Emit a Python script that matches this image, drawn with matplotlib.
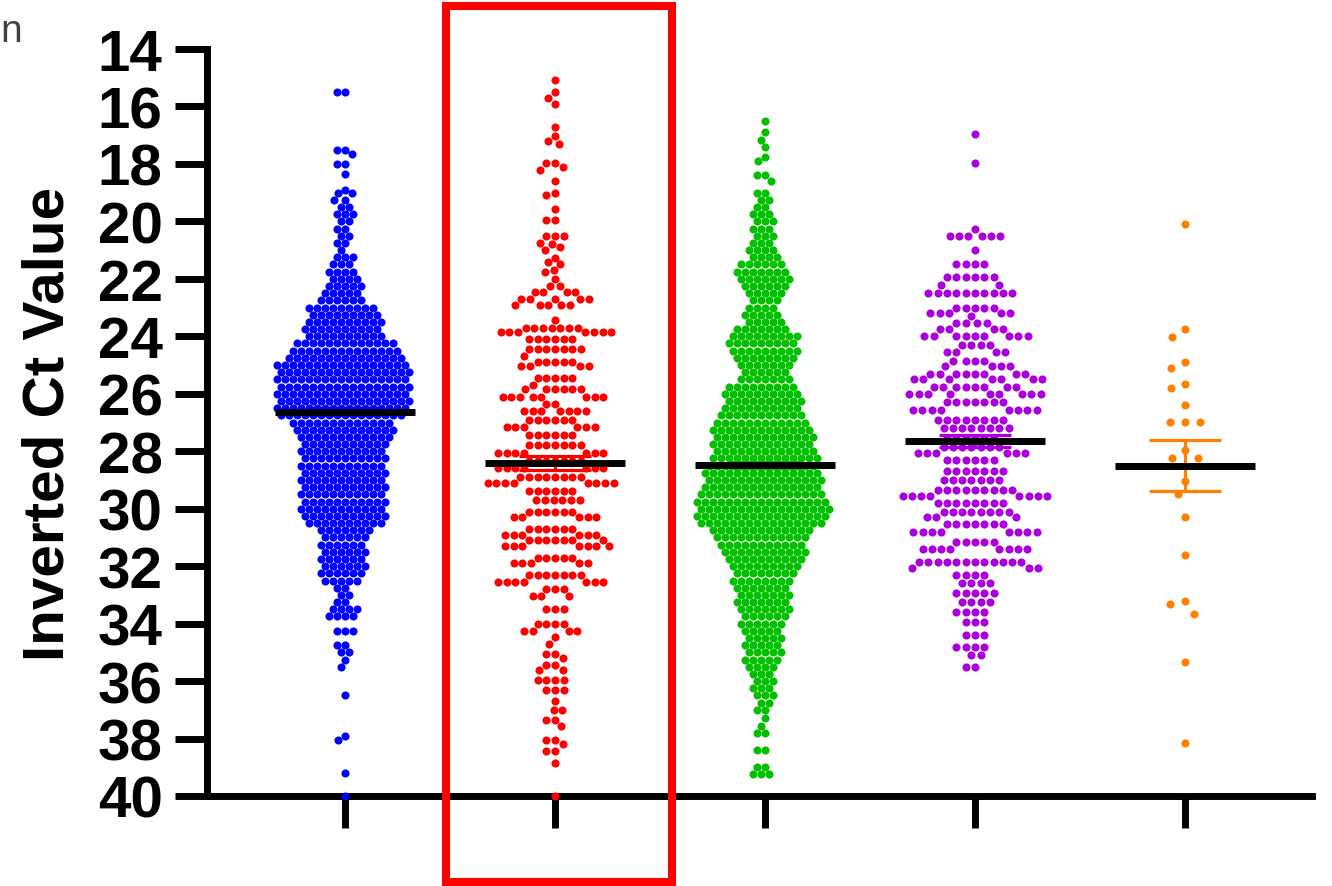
import numpy as np
import matplotlib
matplotlib.use('Agg')
import matplotlib.pyplot as plt
import matplotlib.transforms as mtransforms
from matplotlib.patches import Rectangle

plt.rcParams['font.family'] = ['Liberation Sans', 'DejaVu Sans']

blue_ct = [15.5, 17.5, 17.65, 18.0, 18.35, 18.9,
           19.0, 19.25, 19.5, 19.75, 20.0, 20.25, 20.5, 20.75, 21.0, 21.25,
           21.5, 21.75, 22.0, 22.25, 22.5, 22.75, 23.0, 23.25, 23.5, 23.75,
           24.0, 24.25, 24.5, 24.75, 25.0, 25.25, 25.5, 25.75, 26.0, 26.25,
           26.5, 26.75, 27.0, 27.25, 27.5, 27.75, 28.0, 28.25, 28.5, 28.75,
           29.0, 29.25, 29.5, 29.75, 30.0, 30.25, 30.5, 30.75, 31.0, 31.25,
           31.5, 31.75, 32.0, 32.25, 32.5, 32.75, 33.0, 33.25, 33.5, 33.75,
           34.25, 34.75, 35.0, 35.25, 35.5, 36.5, 37.9, 38.05, 39.2, 40.0]
blue_n = [2, 2, 1, 2, 1, 1,
          2, 2, 2, 3, 2, 2, 2, 2, 1, 3,
          3, 4, 4, 5, 5, 6, 9, 9, 10, 10,
          10, 13, 14, 15, 17, 17, 17, 17, 17, 17,
          17, 16, 13, 13, 12, 11, 11, 11, 11, 11,
          11, 11, 11, 11, 11, 11, 10, 7, 6, 6,
          6, 6, 6, 6, 5, 2, 2, 2, 4, 4,
          3, 2, 2, 1, 1, 1, 1, 1, 1, 1]

red_ct = [15.08, 15.5, 15.7, 15.9, 16.7, 17.04, 17.2, 17.3, 17.98, 18.1,
          18.2, 18.58, 19.0, 19.07, 19.57, 19.94, 20.52, 20.74, 20.8, 20.9,
          21.0, 21.26, 21.42, 21.5, 21.7, 21.76, 22.0, 22.24, 22.45, 22.7,
          22.9, 23.42,
          23.7, 23.85, 24.1, 24.45, 24.7, 24.9, 25.05, 25.45, 25.7, 25.85,
          26.1, 26.35, 26.6, 26.9, 27.15, 27.45, 27.8, 28.05, 28.35, 28.6,
          28.9, 29.1, 29.4, 29.7, 30.1, 30.3, 30.7, 30.9, 31.1, 31.3,
          31.7, 31.9, 32.3, 32.55, 32.8, 33.05, 33.5, 34.0, 34.25,
          34.47, 34.7, 35.05, 35.2, 35.45, 35.6, 35.95, 36.3, 36.7, 37.0,
          37.35, 37.55, 38.05, 38.2, 38.43, 38.85, 40.0]
red_n = [1, 1, 1, 1, 1, 1, 1, 1, 2, 1,
         1, 1, 1, 1, 1, 2, 3, 1, 1, 1,
         1, 1, 1, 1, 1, 1, 1, 2, 4, 5,
         5, 1,
         7, 7, 6, 7, 1, 5, 4, 5, 1, 6,
         8, 2, 7, 6, 6, 6, 7, 7, 7, 7,
         8, 8, 6, 6, 6, 5, 6, 6, 7, 7,
         5, 5, 7, 7, 3, 3, 3, 4, 4,
         1, 1, 2, 1, 2, 2, 4, 3, 1, 2,
         2, 1, 2, 1, 2, 1, 1]

green_ct = [16.5, 16.9, 17.15, 17.4, 17.75, 17.9, 18.4, 18.6, 19.0,
            19.25, 19.5, 19.75, 20.0, 20.25, 20.5, 20.75, 21.0, 21.25, 21.5,
            21.75, 22.0, 22.25, 22.5, 22.75, 23.0, 23.25, 23.5, 23.75, 24.0,
            24.25, 24.5, 24.75, 25.0, 25.25, 25.5, 25.75, 26.0, 26.25, 26.5,
            26.75, 27.0, 27.25, 27.5, 27.75, 28.0, 28.25, 28.5, 28.75, 29.0,
            29.25, 29.5, 29.75, 30.0, 30.25, 30.5, 30.75, 31.0, 31.25, 31.5,
            31.75, 32.0, 32.25, 32.5, 32.75, 33.0, 33.25, 33.5, 33.75, 34.0,
            34.25, 34.5, 34.75, 35.0, 35.25, 35.5, 35.75, 36.0, 36.25, 36.5,
            36.75, 37.0, 37.3, 37.55, 37.8, 38.4, 39.0, 39.25]
green_n = [1, 1, 1, 1, 1, 1, 2, 1, 2,
           2, 2, 3, 3, 3, 3, 3, 4, 4, 6,
           7, 7, 6, 5, 4, 4, 5, 5, 7, 9,
           9, 9, 8, 7, 6, 7, 9, 10, 10, 10,
           11, 12, 13, 13, 13, 13, 14, 14, 15, 15,
           15, 16, 17, 17, 17, 16, 13, 12, 11, 11,
           10, 9, 8, 8, 7, 7, 7, 7, 6, 6,
           5, 5, 5, 5, 5, 4, 3, 3, 3, 3,
           2, 2, 1, 1, 2, 2, 2, 3]

purple_ct = [16.96, 17.97, 20.27, 20.5, 20.98, 21.5, 21.95, 22.2, 22.5, 23.0,
             23.2, 23.3, 23.55, 23.75, 24.0, 24.3, 24.55, 24.85, 25.05, 25.3,
             25.5, 25.75, 26.0, 26.3, 26.55, 26.9, 27.2, 27.55, 27.85, 28.05,
             28.3, 28.7, 29.0, 29.35, 29.55, 29.8, 30.1, 30.3, 30.55, 30.8,
             31.15, 31.4, 31.85, 32.05, 32.3, 32.6, 32.95, 33.25, 33.6, 33.95,
             34.4, 34.8, 35.1, 35.5]
purple_n = [1, 1, 1, 6, 1, 4, 6, 2, 10, 5,
            5, 1, 4, 4, 9, 4, 4, 4, 4, 8,
            7, 8, 9, 7, 8, 8, 8, 6, 7, 6,
            6, 7, 7, 9, 8, 8, 8, 3, 7, 8,
            5, 8, 12, 3, 4, 4, 5, 4, 4, 3,
            3, 4, 2, 2]

orange_ct = [20.09, 23.75, 24.02, 24.9, 25.1, 25.65, 25.8, 26.39, 26.98, 27.97,
             28.25, 29.02, 29.49, 30.29, 31.62, 33.23, 33.33, 33.65, 35.35, 38.16]
orange_n = [1, 1, 1, 1, 1, 1, 1, 1, 3, 1,
            2, 1, 1, 1, 1, 1, 1, 1, 1, 1]

means = [26.63, 28.41, 28.47, 27.65, 28.50]
sems = [0.12, 0.25, 0.11, 0.22, 0.88]

colors = ['#0000ff', '#ff0000', '#00c000', '#aa00dd', '#ff8000']
dot_gap = [8.0, 8.7, 8.0, 9.3, 15.0]   # swarm spacing in pixels

groups = [np.repeat(blue_ct, blue_n), np.repeat(red_ct, red_n),
          np.repeat(green_ct, green_n), np.repeat(purple_ct, purple_n),
          np.repeat(orange_ct, orange_n)]


def swarm(ypix, d):
    # simple beeswarm: take the free spot nearest the centre, left first
    order = np.argsort(-ypix, kind='stable')
    xs = np.zeros(len(ypix))
    px = np.empty(0)
    py = np.empty(0)
    for i in order:
        y = ypix[i]
        m = np.abs(py - y) < d
        nx, ny = px[m], py[m]
        x = 0.0
        if len(nx):
            dx = np.sqrt(d * d - (ny - y) ** 2)
            c = np.concatenate([[0.0], nx - dx, nx + dx])
            c = c[np.lexsort((c, np.round(np.abs(c), 4)))]
            dist = (c[:, None] - nx[None, :]) ** 2 + (ny - y)[None, :] ** 2
            ok = np.all(dist >= d * d - 1e-3, axis=1)
            x = c[np.argmax(ok)]
        xs[i] = x
        px = np.append(px, x)
        py = np.append(py, y)
    return xs


fig = plt.figure(figsize=(13.32, 8.87), dpi=100)
ax = fig.add_axes([207 / 1332, 90 / 887, 1105 / 1332, 747 / 887])
ax.set_xlim(-0.657, 4.605)
ax.set_ylim(40, 14)

for i, vals in enumerate(groups):
    pts = ax.transData.transform(np.column_stack([np.full(len(vals), i), vals]))
    off = swarm(pts[:, 1], dot_gap[i])
    pts[:, 0] += off
    xd = ax.transData.inverted().transform(pts)[:, 0]
    ax.scatter(xd, vals, s=34, color=colors[i], linewidths=0, zorder=3, clip_on=False)

xpos = np.arange(5)
for i in range(5):
    ax.errorbar(i, means[i], yerr=sems[i], fmt='none', ecolor=colors[i],
                elinewidth=2.3, capsize=26, capthick=2.3, zorder=4)
ax.hlines(means, xpos - 0.335, xpos + 0.335, colors='black', linewidth=5,
          zorder=5, capstyle='butt')

for s in ['top', 'right']:
    ax.spines[s].set_visible(False)
for s in ['left', 'bottom']:
    ax.spines[s].set_linewidth(5)
    ax.spines[s].set_capstyle('projecting')

ax.set_yticks(np.arange(14, 41, 2))
ax.set_xticks(xpos)
ax.tick_params(axis='y', direction='out', length=23, width=5, pad=9,
               labelsize=42)
ax.tick_params(axis='x', direction='out', length=23, width=5, labelbottom=False)
for lab in ax.get_yticklabels():
    lab.set_fontweight('bold')

ax.set_ylabel('Inverted Ct Value', fontsize=42, fontweight='bold')
ax.yaxis.set_label_coords(-0.1186, 0.5)

# red highlight box around the second group
trans = mtransforms.blended_transform_factory(ax.transData, fig.transFigure)
box = Rectangle((0.481, 4 / 887), 1.076, 876 / 887, fill=False,
                edgecolor='#ff0000', linewidth=5.8, transform=trans,
                clip_on=False, zorder=6)
ax.add_patch(box)

fig.text(0.0, 1 - 42 / 887, 'n', fontsize=28, color='#404040',
         ha='left', va='baseline')

fig.savefig('out.png', dpi=100)
